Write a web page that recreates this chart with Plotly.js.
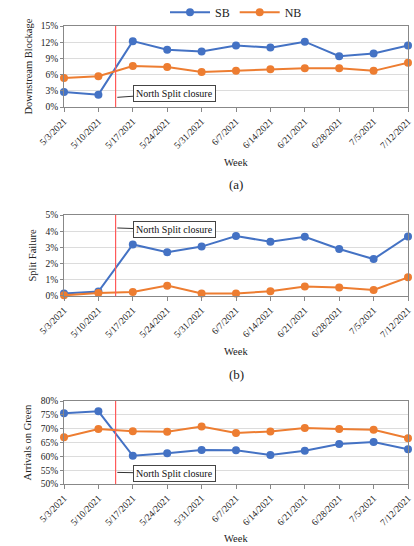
<!DOCTYPE html>
<html><head><meta charset="utf-8">
<script src="https://cdn.plot.ly/plotly-3.0.1.min.js"></script>
<style>html,body{margin:0;padding:0;background:#fff}#chart{width:414px;height:546px}</style>
</head><body><div id="chart"></div>
<script>
const weeks = ["5/3/2021","5/10/2021","5/17/2021","5/24/2021","5/31/2021","6/7/2021","6/14/2021","6/21/2021","6/28/2021","7/5/2021","7/12/2021"];
const blockSB = [2.8,2.3,12.2,10.6,10.3,11.4,11.0,12.1,9.4,9.9,11.4];
const blockNB = [5.4,5.7,7.6,7.4,6.5,6.7,7.0,7.2,7.2,6.7,8.2];
const failSB = [0.16,0.27,3.18,2.7,3.05,3.7,3.35,3.66,2.9,2.28,3.68];
const failNB = [0.04,0.19,0.25,0.64,0.16,0.16,0.29,0.58,0.53,0.37,1.15];
const aogSB = [75.6,76.3,60.2,61.1,62.3,62.2,60.5,62.0,64.5,65.2,62.6];
const aogNB = [66.9,69.9,69.1,68.9,70.8,68.5,69.0,70.3,69.9,69.6,66.6];
const closureWeek = 1.5;

const blue = "#4472C4", orange = "#ED7D31";
const serif = "Liberation Serif, Times New Roman, serif";

function tr(y, color, name, xa, ya, show){
  return {x: weeks, y: y, type: "scatter", mode: "lines+markers", name: name,
    xaxis: xa, yaxis: ya, showlegend: show, legendgroup: name,
    line: {color: color, width: 2}, marker: {color: color, size: 8}, cliponaxis: false};
}
const data = [
  tr(blockSB, blue, "SB", "x", "y", true),
  tr(blockNB, orange, "NB", "x", "y", true),
  tr(failSB, blue, "SB", "x2", "y2", false),
  tr(failNB, orange, "NB", "x2", "y2", false),
  tr(aogSB, blue, "SB", "x3", "y3", false),
  tr(aogNB, orange, "NB", "x3", "y3", false)
];

function xax(anchor){
  return {anchor: anchor, type: "category", range: [0, 10], tickangle: -45,
    tickfont: {family: serif, size: 9.5, color: "#222"}, ticks: "outside", ticklen: 4,
    tickcolor: "#888", showline: true, linecolor: "#888", mirror: true, showgrid: false, zeroline: false};
}
function yax(dom, range, dtick, title, xa){
  return {domain: dom, anchor: xa, range: range, dtick: dtick, ticksuffix: "%",
    tickfont: {family: serif, size: 9.5, color: "#222"}, ticks: "outside", ticklen: 3, tickcolor: "#888",
    showline: true, linecolor: "#888", mirror: true, gridcolor: "#dcdcdc", zeroline: false,
    title: {text: title, font: {family: serif, size: 10.5, color: "#222"}, standoff: 6}};
}

function vline(xa, ya){
  return {type: "line", xref: xa, yref: ya + " domain", x0: closureWeek, x1: closureWeek, y0: 0, y1: 1,
    layer: "above", line: {color: "#ff5a5a", width: 1.2}};
}
function callout(xa, ya, yv, ax, ay){
  return {xref: xa, yref: ya, x: 1.55, y: yv, text: "North Split closure", showarrow: true,
    arrowhead: 0, arrowwidth: 1, arrowcolor: "#333", ax: ax, ay: ay, bgcolor: "#fff",
    bordercolor: "#444", borderwidth: 1, borderpad: 2, font: {family: serif, size: 10, color: "#111"}};
}
function ptxt(text, y, size){
  return {xref: "paper", yref: "paper", x: 0.5, y: y, text: text, showarrow: false,
    font: {family: serif, size: size, color: "#222"}, yanchor: "middle"};
}

const layout = {
  width: 414, height: 546,
  margin: {l: 64, r: 6, t: 26, b: 62, autoexpand: false},
  paper_bgcolor: "#fff", plot_bgcolor: "#fff",
  showlegend: true,
  legend: {orientation: "h", x: 0.5, xanchor: "center", y: 1.03, yanchor: "middle",
    bgcolor: "rgba(0,0,0,0)",
    font: {family: serif, size: 12, color: "#222"}, itemwidth: 40, tracegroupgap: 0},
  xaxis: xax("y"), xaxis2: xax("y2"), xaxis3: xax("y3"),
  yaxis: yax([0.823, 1.0], [0, 15], 3, "Downstream Blockage", "x"),
  yaxis2: yax([0.4105, 0.5873], [0, 5], 1, "Split Failure", "x2"),
  yaxis3: yax([0, 0.181], [50, 80], 5, "Arrivals on Green", "x3"),
  shapes: [vline("x", "y"), vline("x2", "y2"), vline("x3", "y3")],
  annotations: [
    callout("x", "y", 1.8, 57, -4),
    callout("x2", "y2", 4.2, 57, 2),
    callout("x3", "y3", 54.2, 57, 1),
    ptxt("Week", 0.703, 10.5), ptxt("(a)", 0.653, 13),
    ptxt("Week", 0.290, 10.5), ptxt("(b)", 0.238, 13),
    ptxt("Week", -0.120, 10.5)
  ]
};
Plotly.newPlot("chart", data, layout, {displayModeBar: false, staticPlot: true});
</script></body></html>
